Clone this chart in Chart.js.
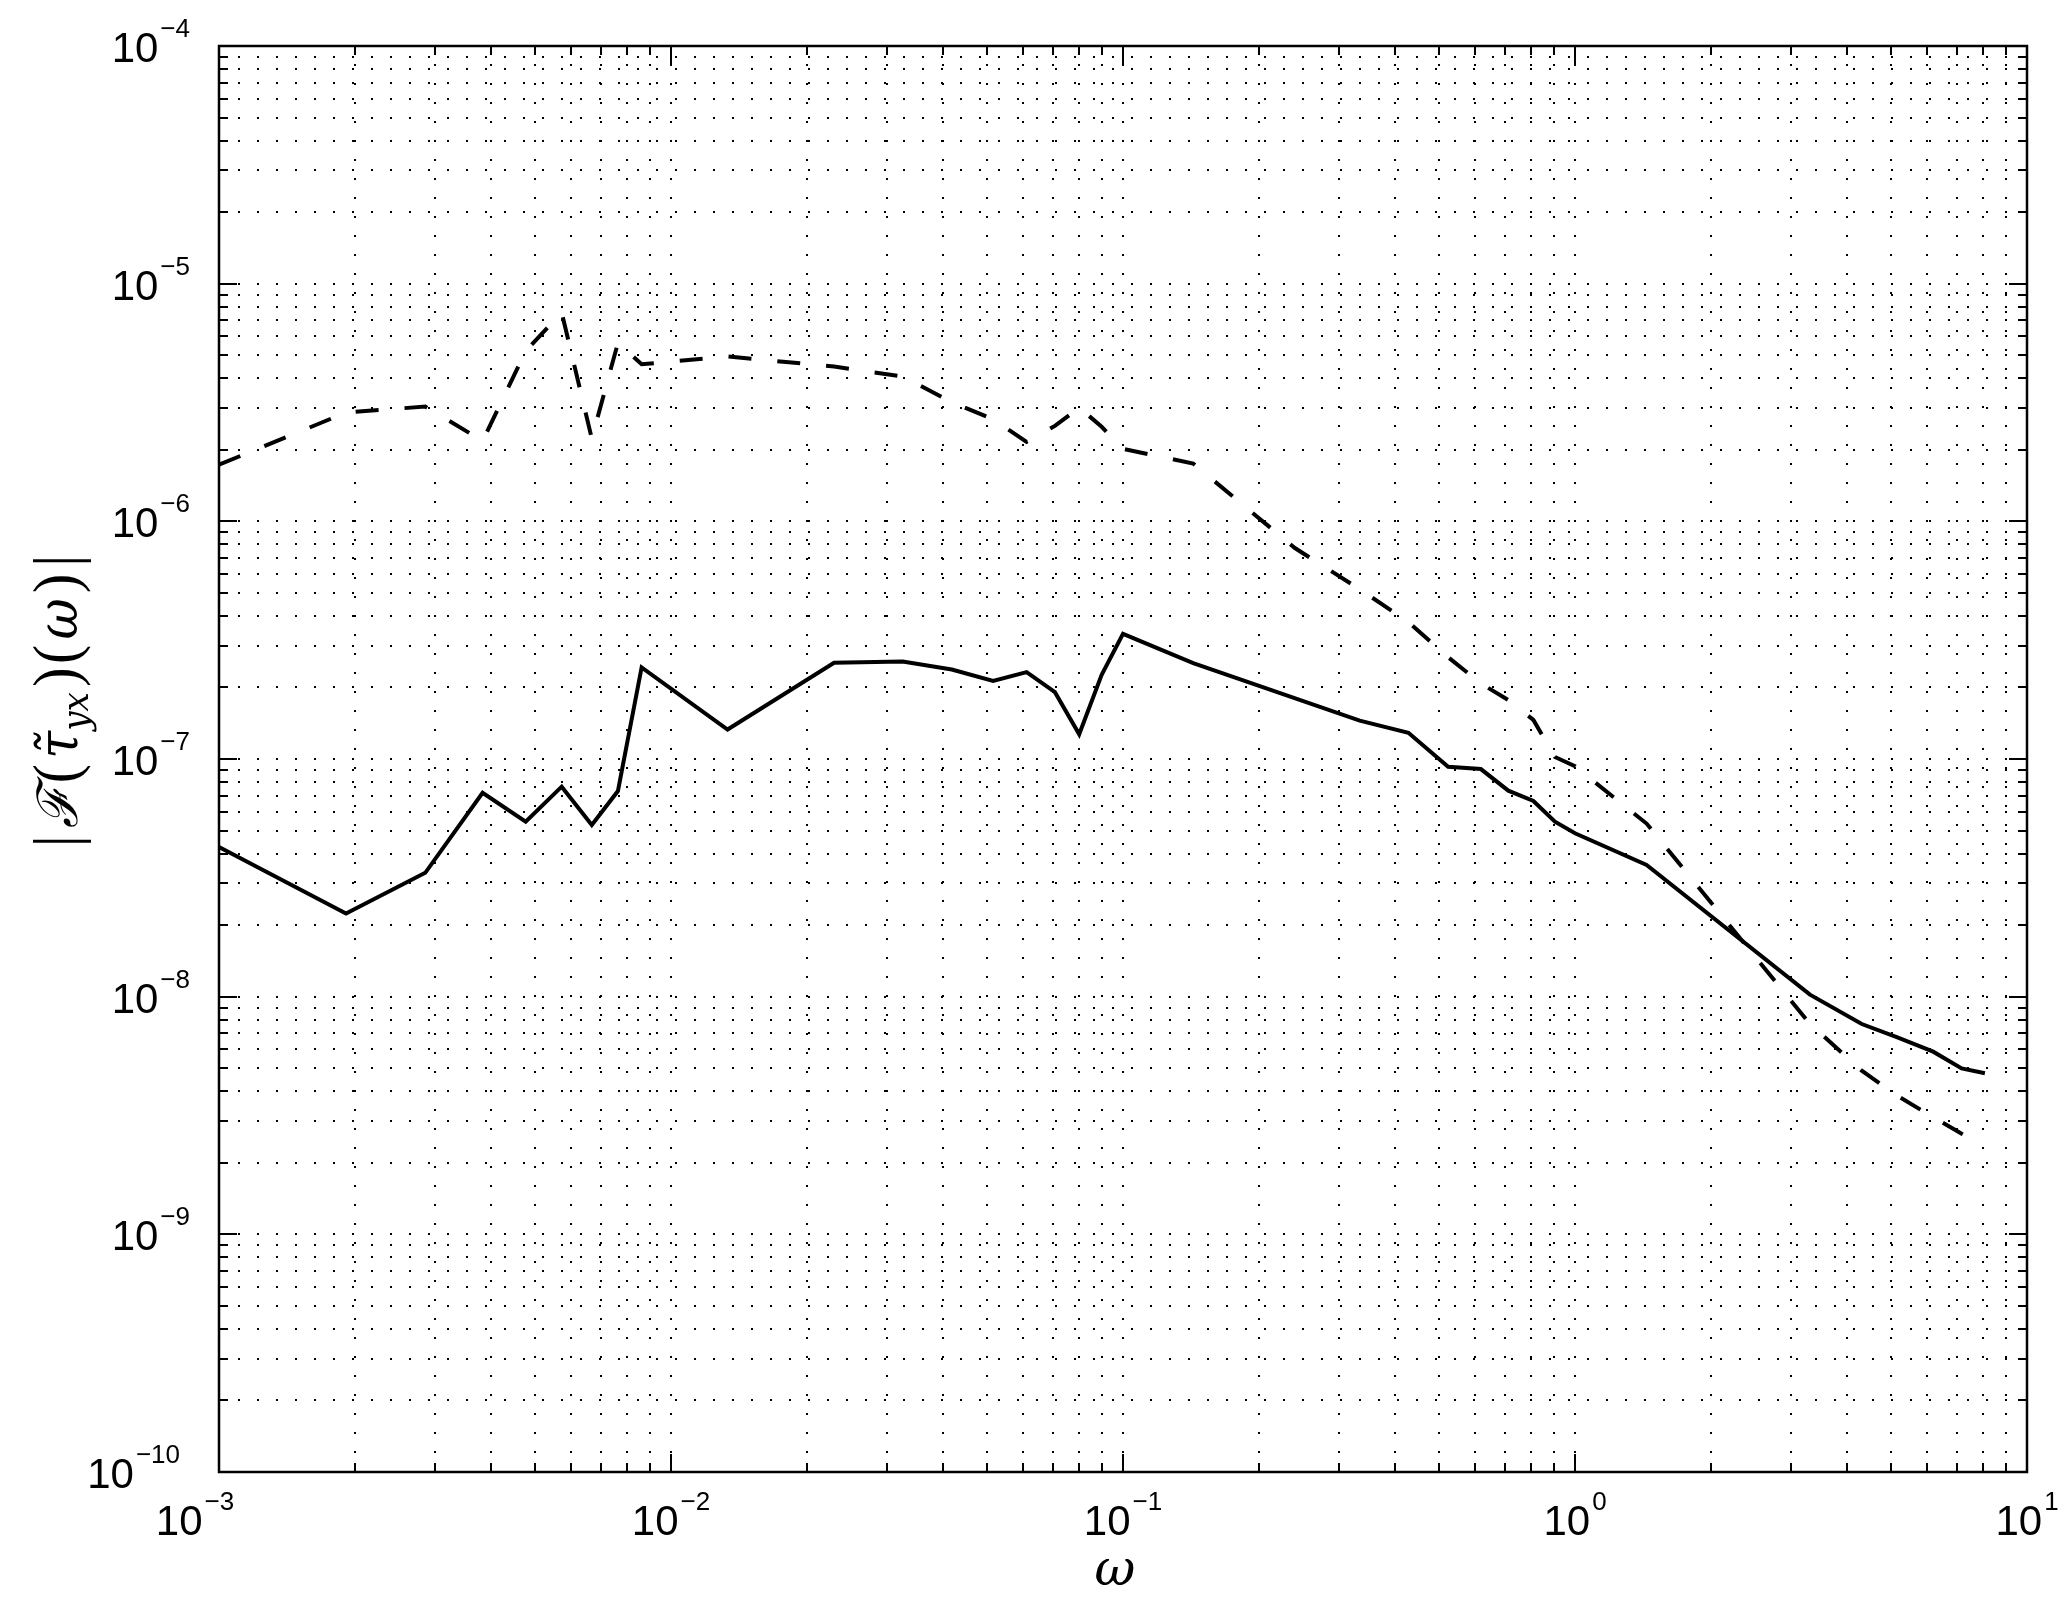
<!DOCTYPE html>
<html>
<head>
<meta charset="utf-8">
<script src="https://cdn.jsdelivr.net/npm/chart.js@4.4.0/dist/chart.umd.min.js"></script>
<style>
  html, body { margin: 0; padding: 0; background: #fff; }
  canvas { display: block; }
</style>
</head>
<body>
<canvas id="spectrumChart" width="2072" height="1604"></canvas>
<script>
// omega values and |F(tau_yx)(omega)|
const omegaSolid = [0.001, 0.00191, 0.00286, 0.00383, 0.00477, 0.00573, 0.00668, 0.00763, 0.00861,
    0.01334, 0.02295, 0.03255, 0.0418, 0.0516, 0.0612, 0.0707, 0.080, 0.0897, 0.100, 0.143,
    0.334, 0.428, 0.524, 0.619, 0.712, 0.809, 0.903, 1.0, 1.44, 3.31, 4.31, 5.15, 6.20, 7.17, 8.07];
const solidValues = [4.26e-8, 2.24e-8, 3.32e-8, 7.21e-8, 5.45e-8, 7.65e-8, 5.28e-8, 7.33e-8, 2.43e-7,
    1.33e-7, 2.54e-7, 2.57e-7, 2.38e-7, 2.13e-7, 2.32e-7, 1.91e-7, 1.27e-7, 2.26e-7, 3.36e-7, 2.53e-7,
    1.45e-7, 1.29e-7, 9.28e-8, 9.07e-8, 7.36e-8, 6.66e-8, 5.45e-8, 4.87e-8, 3.58e-8, 1.02e-8, 7.67e-9,
    6.75e-9, 5.87e-9, 4.99e-9, 4.76e-9];

const omegaDashed = [0.001, 0.00191, 0.00286, 0.00383, 0.00477, 0.00573, 0.00668, 0.00763, 0.00861,
    0.01334, 0.02295, 0.03255, 0.0418, 0.0516, 0.0612, 0.0707, 0.080, 0.0897, 0.100, 0.143, 0.240,
    0.334, 0.428, 0.524, 0.619, 0.712, 0.809, 0.903, 1.0, 1.44, 3.31, 4.31, 5.15, 6.20, 7.17, 8.07];
const dashedValues = [1.73e-6, 2.87e-6, 3.04e-6, 2.18e-6, 5.2e-6, 7.57e-6, 2.23e-6, 5.63e-6, 4.58e-6,
    4.94e-6, 4.48e-6, 4.07e-6, 3.17e-6, 2.69e-6, 2.16e-6, 2.52e-6, 3.01e-6, 2.50e-6, 2.02e-6, 1.75e-6,
    7.72e-7, 5.18e-7, 3.77e-7, 2.68e-7, 2.08e-7, 1.77e-7, 1.46e-7, 1.02e-7, 9.32e-8, 5.35e-8, 7.68e-9,
    4.88e-9, 3.84e-9, 3.11e-9, 2.65e-9, 2.37e-9];

// decades shown on each axis (tick labels are 10^exp)
const xTickExponents = [-3, -2, -1, 0, 1];
const yTickExponents = [-10, -9, -8, -7, -6, -5, -4];
const minorMultipliers = [2, 3, 4, 5, 6, 7, 8, 9];

function decadeTicks(exps) {
    const ticks = [];
    exps.forEach((e, i) => {
        ticks.push({ value: Number('1e' + e), major: true });
        if (i < exps.length - 1) {
            minorMultipliers.forEach(m => ticks.push({ value: Number(m + 'e' + e), major: false }));
        }
    });
    return ticks;
}

function expText(e) {
    return e < 0 ? '\u2212' + Math.abs(e) : String(e);
}

// matlab-like axes: dotted grid, inward ticks on all sides, box, 10^n labels
const matlabAxes = {
    id: 'matlabAxes',
    beforeDatasetsDraw(chart) {
        const { ctx, chartArea: a, scales: { x, y } } = chart;
        ctx.save();
        ctx.strokeStyle = '#000';
        ctx.lineWidth = 2;
        ctx.setLineDash([2, 17]);
        x.ticks.forEach(t => {
            const px = Math.round(x.getPixelForValue(t.value));
            if (px <= a.left + 1 || px >= a.right - 1) return;
            ctx.beginPath();
            ctx.moveTo(px, a.bottom);
            ctx.lineTo(px, a.top);
            ctx.stroke();
        });
        y.ticks.forEach(t => {
            const py = Math.round(y.getPixelForValue(t.value));
            if (py <= a.top + 1 || py >= a.bottom - 1) return;
            ctx.beginPath();
            ctx.moveTo(a.left, py);
            ctx.lineTo(a.right, py);
            ctx.stroke();
        });
        ctx.restore();
    },
    afterDatasetsDraw(chart) {
        const { ctx, chartArea: a, scales: { x, y } } = chart;
        ctx.save();
        ctx.strokeStyle = '#000';
        ctx.fillStyle = '#000';

        // ticks
        ctx.lineWidth = 2;
        x.ticks.forEach(t => {
            const px = Math.round(x.getPixelForValue(t.value));
            if (px <= a.left + 1 || px >= a.right - 1) return;
            const len = t.major ? 18 : 9;
            ctx.beginPath();
            ctx.moveTo(px, a.bottom); ctx.lineTo(px, a.bottom - len);
            ctx.moveTo(px, a.top); ctx.lineTo(px, a.top + len);
            ctx.stroke();
        });
        y.ticks.forEach(t => {
            const py = Math.round(y.getPixelForValue(t.value));
            if (py <= a.top + 1 || py >= a.bottom - 1) return;
            const len = t.major ? 18 : 9;
            ctx.beginPath();
            ctx.moveTo(a.left, py); ctx.lineTo(a.left + len, py);
            ctx.moveTo(a.right, py); ctx.lineTo(a.right - len, py);
            ctx.stroke();
        });

        // box
        ctx.lineWidth = 2.5;
        ctx.strokeRect(a.left, a.top, a.right - a.left, a.bottom - a.top);

        const baseFont = '42px "Liberation Sans", Arial, sans-serif';
        const supFont = '26px "Liberation Sans", Arial, sans-serif';
        ctx.textBaseline = 'alphabetic';

        // y tick labels
        yTickExponents.forEach(e => {
            const py = y.getPixelForValue(Number('1e' + e));
            const s = expText(e);
            ctx.font = supFont;
            const supW = ctx.measureText(s).width;
            const right = a.left - 29 - (s.length - 2) * 10;
            ctx.textAlign = 'left';
            ctx.fillText(s, right - supW, py - 9);
            ctx.font = baseFont;
            ctx.textAlign = 'right';
            ctx.fillText('10', right - supW - 2, py + 16);
        });

        // x tick labels
        xTickExponents.forEach((e, i) => {
            const px = x.getPixelForValue(Number('1e' + e));
            const s = expText(e);
            ctx.font = baseFont;
            const w10 = ctx.measureText('10').width;
            ctx.font = supFont;
            const supW = ctx.measureText(s).width;
            let left = px - (w10 + 2 + supW) / 2;
            if (i === 0) left -= 24;
            ctx.textAlign = 'left';
            ctx.font = baseFont;
            ctx.fillText('10', left, a.bottom + 63);
            ctx.font = supFont;
            ctx.fillText(s, left + w10 + 2, a.bottom + 38);
        });

        // x axis title
        ctx.font = 'italic 50px "DejaVu Serif", serif';
        ctx.textAlign = 'center';
        ctx.fillText('\u03C9', (a.left + a.right) / 2 - 8, a.bottom + 113);

        // y axis title, rotated
        const bigFont = '64px "Liberation Serif", serif';
        const mathFont = 'italic 56px "DejaVu Serif", serif';
        const subFont = 'italic 38px "DejaVu Serif", serif';
        const parts = [
            { t: '|', f: bigFont, dy: 0, gap: 8 },
            { t: '\u2131', f: mathFont, dy: 0, gap: 4 },
            { t: '(', f: bigFont, dy: 0, gap: 6 },
            { t: '\u03C4\u0303', f: mathFont, dy: 0, gap: 0 },
            { t: 'yx', f: subFont, dy: 11, gap: 6 },
            { t: ')', f: bigFont, dy: 0, gap: 4 },
            { t: '(', f: bigFont, dy: 0, gap: 6 },
            { t: '\u03C9', f: mathFont, dy: 0, gap: 6 },
            { t: ')', f: bigFont, dy: 0, gap: 8 },
            { t: '|', f: bigFont, dy: 0, gap: 0 }
        ];
        let total = 0;
        parts.forEach(p => {
            ctx.font = p.f;
            p.w = ctx.measureText(p.t).width;
            total += p.w + p.gap;
        });
        ctx.translate(77, 701);
        ctx.rotate(-Math.PI / 2);
        ctx.scale(292 / total, 1);
        ctx.textAlign = 'left';
        let cx = -total / 2;
        parts.forEach(p => {
            ctx.font = p.f;
            ctx.fillText(p.t, cx, p.dy);
            cx += p.w + p.gap;
        });
        ctx.restore();
    }
};

const ctx = document.getElementById('spectrumChart').getContext('2d');
new Chart(ctx, {
    type: 'line',
    data: {
        datasets: [{
            label: 'solid',
            data: omegaSolid.map((w, i) => ({ x: w, y: solidValues[i] })),
            borderColor: '#000',
            borderWidth: 4,
            pointRadius: 0,
            tension: 0,
            fill: false
        }, {
            label: 'dashed',
            data: omegaDashed.map((w, i) => ({ x: w, y: dashedValues[i] })),
            borderColor: '#000',
            borderWidth: 4,
            borderDash: [23, 26],
            pointRadius: 0,
            tension: 0,
            fill: false
        }]
    },
    options: {
        responsive: false,
        animation: false,
        devicePixelRatio: 1,
        layout: {
            padding: { left: 219, top: 46, right: 45, bottom: 132 }
        },
        plugins: {
            legend: { display: false },
            tooltip: { enabled: false }
        },
        scales: {
            x: {
                type: 'logarithmic',
                display: false,
                min: 1e-3,
                max: 10,
                afterBuildTicks: scale => { scale.ticks = decadeTicks(xTickExponents); }
            },
            y: {
                type: 'logarithmic',
                display: false,
                min: 1e-10,
                max: 1e-4,
                afterBuildTicks: scale => { scale.ticks = decadeTicks(yTickExponents); }
            }
        }
    },
    plugins: [matlabAxes]
});
</script>
</body>
</html>
